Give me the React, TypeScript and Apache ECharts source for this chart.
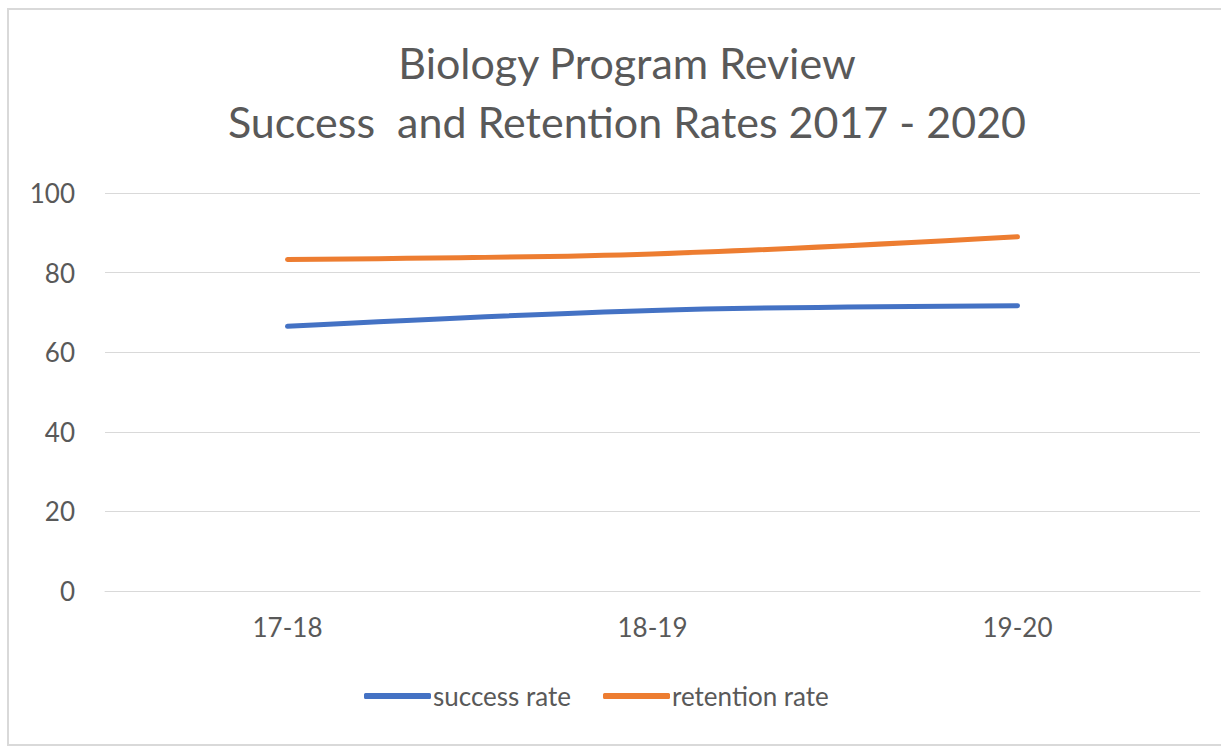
import React, { useEffect, useRef } from "react";
import * as echarts from "echarts";

const categories = ["17-18", "18-19", "19-20"];
const successRate = [66.5, 70.5, 71.7];
const retentionRate = [83.3, 84.7, 89.0];
const yTicks = { min: 0, max: 100, interval: 20 };
const titleLines = ["Biology Program Review", "Success  and Retention Rates 2017 - 2020"];
const seriesNames = ["success rate", "retention rate"];

const FONT = "Lato, 'Open Sans', sans-serif";
const GRAY = "#595959";

export default function App() {
  const ref = useRef<HTMLDivElement>(null);
  useEffect(() => {
    if (!ref.current) return;
    document.documentElement.style.overflow = "hidden";
    document.body.style.overflow = "hidden";
    document.body.style.margin = "0";
    const chart = echarts.init(ref.current, undefined, { renderer: "svg" });
    chart.setOption({
      animation: false,
      backgroundColor: "#ffffff",
      graphic: [
        {
          type: "polyline",
          shape: { points: [[1221, 9], [8, 9], [8, 745], [1221, 745]] },
          style: { fill: "none", stroke: "#d9d9d9", lineWidth: 2 },
          silent: true,
          z: -1,
        },
      ],
      title: {
        text: titleLines.join("\n"),
        left: 622,
        top: 28,
        textAlign: "center",
        textStyle: {
          fontFamily: FONT,
          fontSize: 43,
          fontWeight: "normal",
          color: GRAY,
          lineHeight: 59,
        },
      },
      legend: {
        data: seriesNames,
        bottom: 33,
        left: 359,
        icon: "roundRect",
        itemWidth: 67,
        itemHeight: 6,
        itemGap: 32,
        textStyle: { fontFamily: FONT, fontSize: 26, color: GRAY, padding: [0, 0, 0, -3] },
      },
      grid: { left: 105, right: 21, top: 193, bottom: 156, containLabel: false },
      xAxis: {
        type: "category",
        data: categories,
        boundaryGap: true,
        axisLine: { show: true, lineStyle: { color: "#d9d9d9", width: 1 } },
        axisTick: { show: false },
        axisLabel: { fontFamily: FONT, fontSize: 26, color: GRAY, margin: 23 },
      },
      yAxis: {
        type: "value",
        min: yTicks.min,
        max: yTicks.max,
        interval: yTicks.interval,
        axisLine: { show: false },
        axisTick: { show: false },
        axisLabel: { fontFamily: FONT, fontSize: 26, color: GRAY, margin: 30 },
        splitLine: { lineStyle: { color: "#d9d9d9", width: 1 } },
      },
      series: [
        {
          name: seriesNames[0],
          type: "line",
          data: successRate,
          smooth: 0.35,
          showSymbol: false,
          symbol: "none",
          lineStyle: { color: "#4472c4", width: 5, cap: "round" },
          itemStyle: { color: "#4472c4" },
        },
        {
          name: seriesNames[1],
          type: "line",
          data: retentionRate,
          smooth: 0.35,
          showSymbol: false,
          symbol: "none",
          lineStyle: { color: "#ed7d31", width: 5, cap: "round" },
          itemStyle: { color: "#ed7d31" },
        },
      ],
    });
    return () => chart.dispose();
  }, []);
  return (
    <div
      ref={ref}
      style={{ position: "fixed", left: 0, top: 0, width: 1221, height: 747 }}
    />
  );
}
